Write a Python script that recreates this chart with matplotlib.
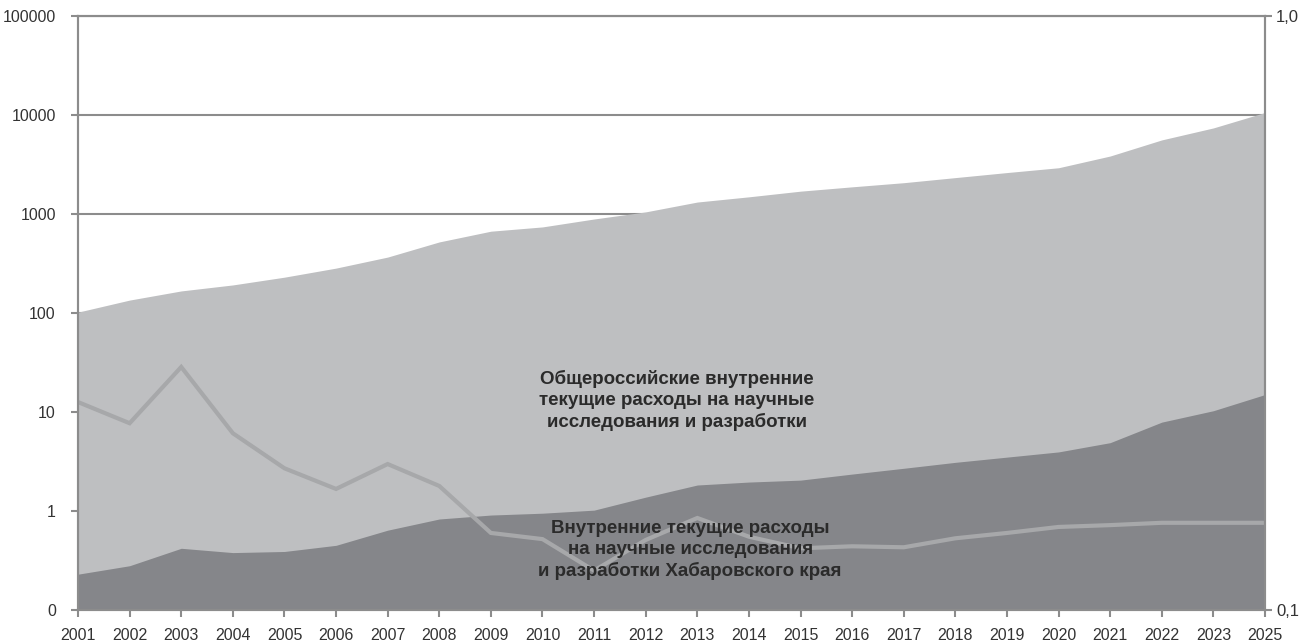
import matplotlib.pyplot as plt
from matplotlib.ticker import FixedLocator, NullLocator

plt.rcParams['font.family'] = ['Liberation Sans Narrow', 'Liberation Sans', 'DejaVu Sans']

years = ["2001", "2002", "2003", "2004", "2005", "2006", "2007", "2008", "2009", "2010",
         "2011", "2012", "2013", "2014", "2015", "2016", "2017", "2018", "2019", "2020",
         "2021", "2022", "2023", "2025"]

# all-Russia internal current R&D spending (light area)
russia = [102, 135, 167, 192, 230, 284, 367, 522, 670, 740,
          890, 1050, 1320, 1490, 1700, 1880, 2070, 2330, 2620, 2930,
          3850, 5600, 7400, 10600]

# Khabarovsk krai internal current R&D spending (dark area)
khabarovsk = [0.23, 0.28, 0.42, 0.38, 0.39, 0.45, 0.64, 0.83, 0.91, 0.95,
              1.02, 1.38, 1.83, 1.96, 2.05, 2.36, 2.7, 3.1, 3.5, 3.95,
              4.9, 7.9, 10.3, 15.0]

# line
share = [12.6, 7.7, 28.5, 6.1, 2.7, 1.67, 2.98, 1.79, 0.60, 0.52,
         0.25, 0.51, 0.85, 0.55, 0.42, 0.44, 0.43, 0.53, 0.60, 0.69,
         0.72, 0.76, 0.76, 0.76]

left_ticks = [0.1, 1, 10, 100, 1000, 10000, 100000]
left_labels = ["0", "1", "10", "100", "1000", "10000", "100000"]
right_ticks = [0.1, 1.0]
right_labels = ["0,1", "1,0"]

label_russia = "Общероссийские внутренние\nтекущие расходы на научные\nисследования и разработки"
label_khab = "Внутренние текущие расходы\nна научные исследования\nи разработки Хабаровского края"

edge = "#8c8c8c"
x = list(range(len(years)))

fig = plt.figure(figsize=(13.09, 6.44), dpi=100)
ax = fig.add_axes([0.0596, 0.0528, 0.9068, 0.9224])

ax.set_yscale("log")
ax.set_ylim(0.1, 100000)
ax.set_xlim(0, len(years) - 1)

ax.fill_between(x, 0.1, russia, color="#bebfc1", lw=0, zorder=2)
ax.fill_between(x, 0.1, khabarovsk, color="#85868a", lw=0, zorder=3)
ax.plot(x, share, color="#a7a8aa", lw=3.0, zorder=4, solid_joinstyle="miter")

ax.yaxis.set_major_locator(FixedLocator(left_ticks))
ax.yaxis.set_minor_locator(NullLocator())
ax.set_yticklabels(left_labels)
ax.set_xticks(x)
ax.set_xticklabels(years)
ax.grid(axis="y", color=edge, lw=1.5, zorder=1)
ax.set_axisbelow(True)

for s in ax.spines.values():
    s.set_color(edge)
    s.set_linewidth(1.5)
    s.set_zorder(5)
ax.tick_params(axis="both", colors=edge, labelcolor="#333333", labelsize=11.5,
               length=5, width=1.5, direction="out")
ax.tick_params(axis="x", pad=8)
ax.tick_params(axis="y", pad=11)

ax2 = ax.twinx()
ax2.set_yscale("log")
ax2.set_ylim(0.1, 1.0)
ax2.yaxis.set_major_locator(FixedLocator(right_ticks))
ax2.yaxis.set_minor_locator(NullLocator())
ax2.set_yticklabels(right_labels)
for s in ax2.spines.values():
    s.set_color(edge)
    s.set_linewidth(1.5)
ax2.tick_params(axis="y", colors=edge, labelcolor="#333333", labelsize=12,
                length=5, width=1.5, direction="out", pad=3)

ax.text(11.6, 13, label_russia, ha="center", va="center", fontsize=13.5,
        fontweight="bold", family=["Liberation Sans", "DejaVu Sans"],
        color="#2b2b2b", linespacing=1.3, zorder=6)
ax.text(11.86, 0.40, label_khab, ha="center", va="center", fontsize=13.5,
        fontweight="bold", family=["Liberation Sans", "DejaVu Sans"],
        color="#2b2b2b", linespacing=1.3, zorder=6)

fig.savefig("out.png", dpi=100)
